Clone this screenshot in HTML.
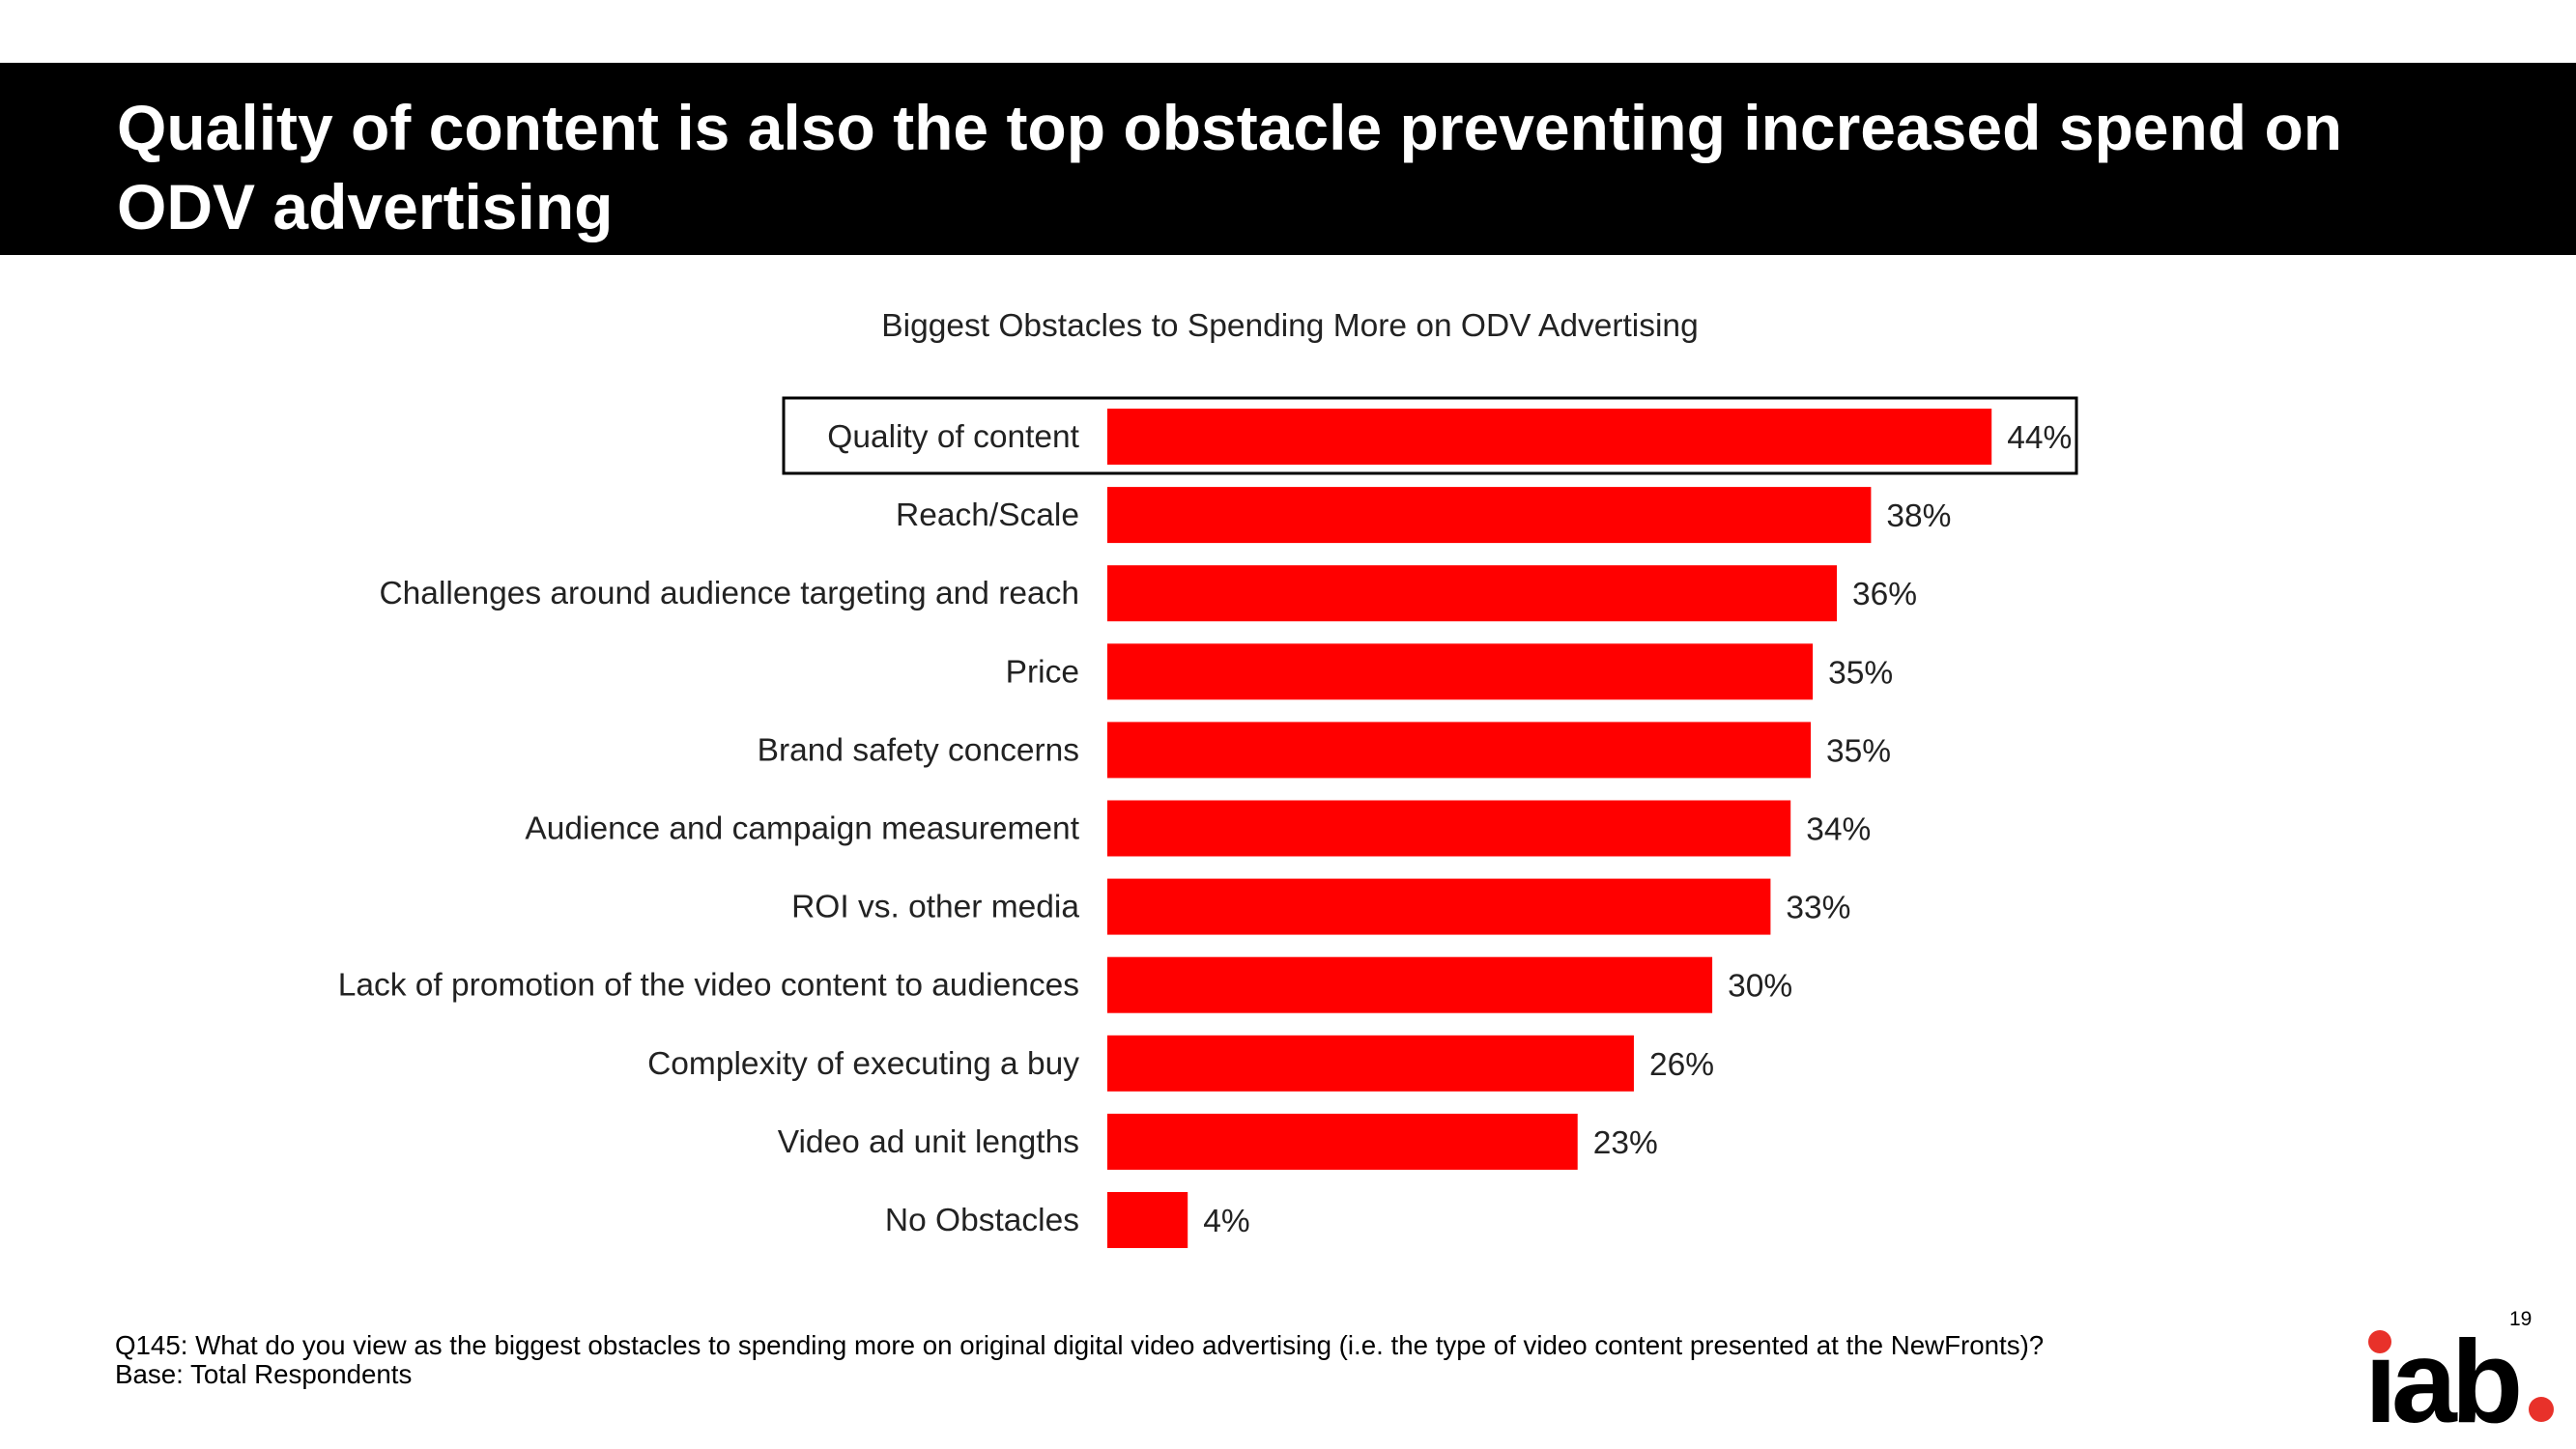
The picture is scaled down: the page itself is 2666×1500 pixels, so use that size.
<!DOCTYPE html>
<html><head><meta charset="utf-8"><style>
body{margin:0;width:2666px;height:1500px;background:#fff;font-family:"Liberation Sans",sans-serif;overflow:hidden;position:relative}
.hdr{position:absolute;left:0;top:65px;width:2666px;height:199px;background:#000}
.hdr h1{margin:0;position:absolute;left:121px;top:26px;color:#fff;font-size:66px;font-weight:bold;line-height:82px}
</style></head><body>
<div class="hdr"><h1>Quality of content is also the top obstacle preventing increased spend on<br>ODV advertising</h1></div>
<svg id="chart" width="2666" height="1500" style="position:absolute;left:0;top:0">
<text x="1335" y="348" text-anchor="middle" font-size="33.5" fill="#222">Biggest Obstacles to Spending More on ODV Advertising</text>
<rect x="811" y="412" width="1338" height="78" fill="none" stroke="#000" stroke-width="3"/>
<g id="bars"></g>
<text x="119" y="1402" font-size="27.7" fill="#000">Q145:  What do you view as the biggest obstacles to spending more on original digital video advertising (i.e. the type of video content presented at the NewFronts)?</text>
<text x="119" y="1432" font-size="27.7" fill="#000">Base: Total Respondents</text>
<text x="2597" y="1372" font-size="21" fill="#000">19</text>
<g>
<text x="2447" y="1472" font-size="122" font-weight="bold" fill="#000" letter-spacing="-6">ıab</text>
<circle cx="2463" cy="1389" r="12" fill="#e8312a"/>
<circle cx="2630" cy="1459" r="13" fill="#e8312a"/>
</g>
</svg>
<script>
const categories=["Quality of content","Reach/Scale","Challenges around audience targeting and reach","Price","Brand safety concerns","Audience and campaign measurement","ROI vs. other media","Lack of promotion of the video content to audiences","Complexity of executing a buy","Video ad unit lengths","No Obstacles"];
const values=[44,38,36.3,35.1,35,34,33,30.1,26.2,23.4,4];
const valueLabels=["44%","38%","36%","35%","35%","34%","33%","30%","26%","23%","4%"];
const x0=1146,pxPer=20.8,y0=452,pitch=81.1,bh=58;
const xs=v=>x0+v*pxPer, ys=i=>y0+i*pitch;
const g=document.getElementById('bars'),NS='http://www.w3.org/2000/svg';
categories.forEach((c,i)=>{
 const r=document.createElementNS(NS,'rect');
 r.setAttribute('x',x0);r.setAttribute('y',ys(i)-bh/2);r.setAttribute('width',xs(values[i])-x0);r.setAttribute('height',bh);r.setAttribute('fill','#ff0000');
 
 
 g.appendChild(r);
 const t=document.createElementNS(NS,'text');
 t.setAttribute('x',1117);t.setAttribute('y',ys(i)+11);t.setAttribute('text-anchor','end');t.setAttribute('font-size','33.5');t.setAttribute('fill','#222');t.textContent=c;
 
 
 g.appendChild(t);
 const v=document.createElementNS(NS,'text');
 v.setAttribute('x',xs(values[i])+16);v.setAttribute('y',ys(i)+12);v.setAttribute('font-size','33.5');v.setAttribute('fill','#222');v.textContent=valueLabels[i];
 
 
 g.appendChild(v);
});
</script>
</body></html>
